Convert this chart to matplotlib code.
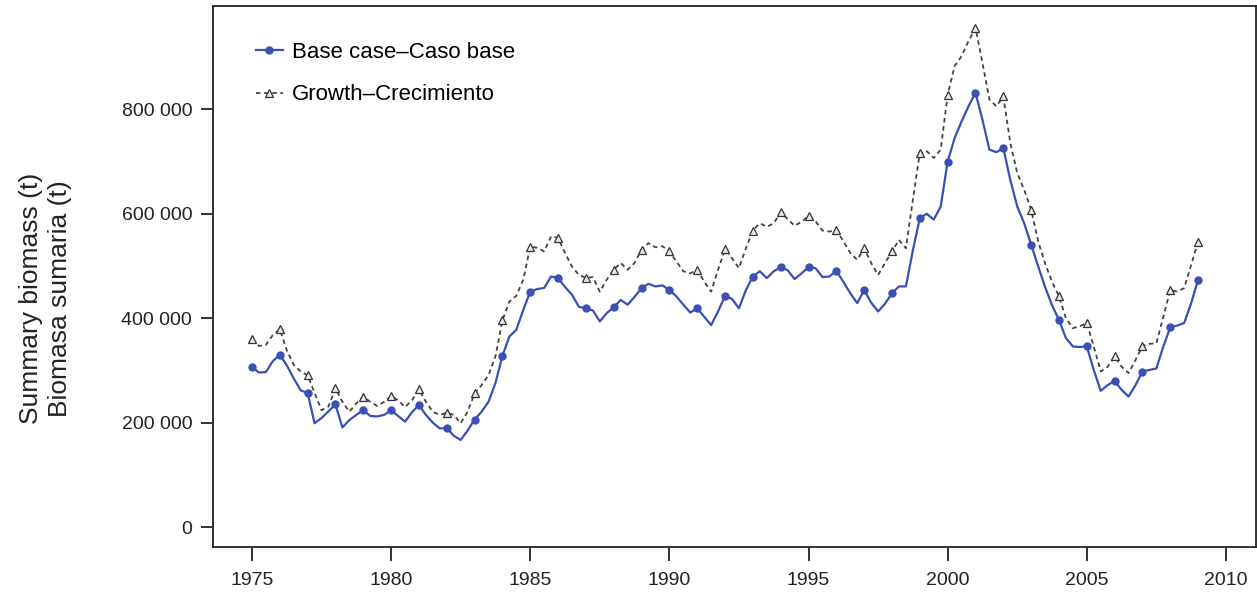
import numpy as np
import matplotlib
matplotlib.use("Agg")
import matplotlib.pyplot as plt
from matplotlib.ticker import FuncFormatter

plt.rcParams['font.family'] = ['Liberation Sans', 'DejaVu Sans']

# quarterly time axis, 1975.00 to 2009.00
start_year = 1975
quarter = 0.25

# Summary biomass (thousand t), quarterly
base_case = [
    307, 296, 297, 318,   # 1975
    330, 310, 285, 262,   # 1976
    257, 199, 209, 222,   # 1977
    235, 191, 205, 215,   # 1978
    224, 213, 212, 215,   # 1979
    224, 213, 202, 220,   # 1980
    234, 215, 200, 189,   # 1981
    190, 175, 167, 185,   # 1982
    206, 221, 240, 276,   # 1983
    328, 365, 378, 416,   # 1984
    451, 456, 458, 480,   # 1985
    477, 460, 445, 422,   # 1986
    419, 415, 394, 410,   # 1987
    421, 435, 426, 441,   # 1988
    458, 466, 461, 463,   # 1989
    454, 442, 426, 411,   # 1990
    419, 403, 387, 413,   # 1991
    443, 437, 419, 454,   # 1992
    480, 490, 477, 490,   # 1993
    498, 492, 475, 486,   # 1994
    498, 496, 479, 480,   # 1995
    491, 470, 448, 429,   # 1996
    454, 430, 413, 428,   # 1997
    448, 461, 461, 530,   # 1998
    592, 600, 589, 614,   # 1999
    700, 745, 777, 806,   # 2000
    832, 780, 723, 718,   # 2001
    726, 665, 614, 582,   # 2002
    541, 500, 460, 425,   # 2003
    397, 362, 346, 345,   # 2004
    346, 301, 261, 272,   # 2005
    280, 263, 250, 272,   # 2006
    298, 301, 304, 346,   # 2007
    383, 386, 391, 429,   # 2008
    474,                  # 2009
]

growth = [
    360, 347, 349, 368,   # 1975
    379, 339, 311, 298,   # 1976
    291, 257, 224, 231,   # 1977
    266, 240, 221, 237,   # 1978
    250, 240, 232, 240,   # 1979
    251, 243, 230, 243,   # 1980
    264, 240, 221, 215,   # 1981
    219, 215, 199, 221,   # 1982
    256, 272, 291, 327,   # 1983
    396, 432, 443, 474,   # 1984
    537, 535, 528, 557,   # 1985
    554, 525, 499, 483,   # 1986
    477, 479, 451, 474,   # 1987
    493, 506, 493, 506,   # 1988
    531, 544, 536, 538,   # 1989
    528, 509, 490, 486,   # 1990
    493, 470, 451, 493,   # 1991
    532, 515, 496, 534,   # 1992
    568, 582, 575, 582,   # 1993
    603, 590, 577, 585,   # 1994
    596, 586, 568, 566,   # 1995
    569, 548, 525, 512,   # 1996
    534, 506, 483, 506,   # 1997
    528, 550, 534, 627,   # 1998
    717, 720, 707, 723,   # 1999
    828, 883, 902, 931,   # 2000
    956, 889, 819, 806,   # 2001
    825, 736, 678, 646,   # 2002
    608, 548, 505, 470,   # 2003
    442, 400, 381, 385,   # 2004
    391, 346, 298, 307,   # 2005
    327, 307, 295, 320,   # 2006
    347, 351, 352, 403,   # 2007
    454, 451, 458, 502,   # 2008
    547,                  # 2009
]

x_ticks = [1975, 1980, 1985, 1990, 1995, 2000, 2005, 2010]
y_ticks = [0, 200000, 400000, 600000, 800000]
labels = ["Base case\u2013Caso base", "Growth\u2013Crecimiento"]
ylabel = "Summary biomass (t)\nBiomasa sumaria (t)"

t = start_year + quarter * np.arange(len(base_case))
base = np.array(base_case) * 1000.0
grow = np.array(growth) * 1000.0

fig = plt.figure(figsize=(12.57, 5.99), dpi=100)
ax = fig.add_axes([213 / 1257, 52 / 599, 1043 / 1257, 541 / 599])

ax.plot(t, base, color='#3b4fb4', lw=1.6, marker='o', ms=5,
        markevery=4, mfc='#3b4fb4', mec='#3b4fb4', label=labels[0], zorder=3)
ax.plot(t, grow, color='#444444', lw=1.3, ls=(0, (2.5, 2)), marker='^', ms=6,
        markevery=4, mfc='#e8e8e8', mec='#333333', mew=0.9, label=labels[1], zorder=2)

ax.set_xlim(1973.6, 2011.08)
ax.set_ylim(-38000, 998000)
ax.set_xticks(x_ticks)
ax.set_yticks(y_ticks)
ax.yaxis.set_major_formatter(FuncFormatter(lambda v, p: f"{int(v):,}".replace(",", " ")))
ax.tick_params(axis='both', direction='out', labelsize=14, colors='#222222')
ax.tick_params(axis='y', length=9, width=1.3, pad=6)
ax.tick_params(axis='x', length=10, width=1.3, pad=8)
for s in ax.spines.values():
    s.set_linewidth(1.3)
    s.set_color('#222222')

ax.set_ylabel(ylabel, fontsize=19, color='#222222', linespacing=1.25)
ax.yaxis.set_label_coords(-0.135, 0.46)

leg = ax.legend(loc='upper left', bbox_to_anchor=(0.022, 0.97), frameon=False,
                fontsize=16, handlelength=1.2, handletextpad=0.4, labelspacing=0.95)

fig.savefig("out.png", dpi=100)
